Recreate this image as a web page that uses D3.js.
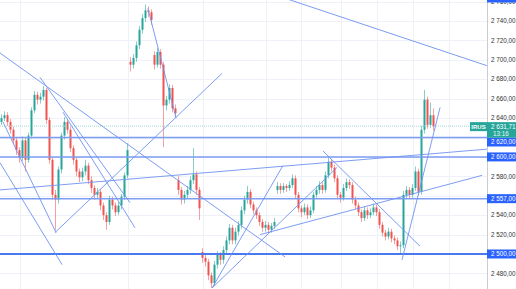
<!DOCTYPE html>
<html>
<head>
<meta charset="utf-8">
<script src="https://cdn.jsdelivr.net/npm/d3@7"></script>
<style>
body { margin: 0; background: #fff; overflow: hidden; }
svg { display: block; font-family: "Liberation Sans", Arial, sans-serif; }
</style>
</head>
<body>
<svg id="chart" width="516" height="289"></svg>
<script>
const svg = d3.select("#chart"),
	width = +svg.attr("width"),
	height = +svg.attr("height");

const plotRight = 487;

// OHLC, one value per candle (IRUS)
const opens = [2636,2640,2643,2636,2628,2617,2607,2599,2617,2597,2622,2648,2664,2659,2662,2669,2638,2597,2561,2556,
	2587,2622,2636,2628,2609,2597,2585,2579,2585,2591,2576,2568,2561,2564,2550,2540,2533,2556,2550,2543,
	2550,2559,2581,2698,2695,2702,2715,2731,2743,2751,2749,2705,2695,2708,2695,2653,2659,2671,2650,2576,
	2566,2556,2561,2566,2576,2582,2566,2502,2496,2492,2478,2470,2489,2499,2494,2504,2514,2527,2514,2523,
	2530,2545,2556,2564,2551,2545,2540,2533,2527,2530,2525,2529,2566,2570,2566,2570,2568,2571,2578,2561,
	2547,2543,2548,2540,2545,2561,2566,2571,2566,2581,2595,2589,2578,2561,2558,2568,2574,2571,2556,2550,
	2543,2537,2545,2540,2543,2548,2543,2530,2522,2518,2523,2516,2514,2508,2509,2561,2566,2561,2568,2585,
	2564,2628,2659,2633,2643];
const highs = [2644,2647,2646,2639,2631,2620,2610,2621,2620,2625,2651,2668,2667,2666,2673,2671,2641,2600,2566,2590,
	2625,2641,2639,2631,2612,2600,2588,2589,2597,2594,2580,2571,2568,2567,2553,2543,2560,2559,2553,2554,
	2562,2584,2614,2703,2706,2719,2735,2747,2757,2755,2752,2709,2712,2711,2698,2663,2675,2674,2654,2580,
	2569,2565,2570,2580,2609,2585,2569,2506,2499,2495,2481,2493,2503,2502,2508,2518,2531,2530,2527,2534,
	2549,2560,2570,2567,2554,2548,2543,2536,2534,2533,2532,2537,2574,2573,2573,2572,2575,2582,2581,2564,
	2550,2552,2551,2549,2564,2570,2575,2574,2585,2600,2598,2592,2581,2564,2572,2578,2577,2574,2559,2553,
	2546,2549,2548,2547,2552,2551,2546,2533,2525,2527,2526,2519,2517,2513,2565,2570,2569,2572,2590,2588,
	2632,2669,2662,2656,2650];
const lows = [2633,2637,2632,2624,2613,2602,2594,2596,2585,2594,2619,2645,2654,2655,2658,2634,2593,2556,2525,2552,
	2583,2618,2624,2605,2592,2580,2574,2575,2581,2572,2563,2556,2557,2545,2535,2525,2530,2546,2539,2540,
	2546,2556,2578,2688,2691,2698,2711,2727,2739,2744,2736,2690,2692,2691,2610,2648,2655,2646,2641,2561,
	2551,2552,2557,2562,2572,2561,2535,2491,2487,2473,2465,2467,2485,2489,2490,2500,2510,2510,2510,2519,
	2526,2541,2552,2547,2541,2536,2529,2523,2523,2521,2522,2526,2562,2562,2563,2564,2565,2568,2557,2543,
	2538,2540,2536,2537,2542,2558,2562,2562,2563,2578,2585,2574,2557,2553,2555,2565,2567,2552,2546,2539,
	2533,2534,2536,2537,2540,2539,2526,2518,2514,2515,2512,2510,2504,2501,2506,2557,2557,2558,2565,2560,
	2561,2624,2629,2630,2627];
const closes = [2640,2643,2636,2628,2617,2607,2599,2617,2597,2622,2648,2664,2659,2662,2669,2638,2597,2561,2556,2587,
	2622,2636,2628,2609,2597,2585,2579,2585,2591,2576,2568,2561,2564,2550,2540,2533,2556,2550,2543,2550,
	2559,2581,2607,2695,2702,2715,2731,2743,2751,2749,2741,2695,2708,2695,2653,2659,2671,2650,2645,2566,
	2556,2561,2566,2576,2582,2566,2547,2496,2492,2478,2470,2489,2499,2494,2504,2514,2527,2514,2523,2530,
	2545,2556,2564,2551,2545,2540,2533,2527,2530,2525,2529,2533,2570,2566,2570,2568,2571,2578,2561,2547,
	2543,2548,2540,2545,2561,2566,2571,2566,2581,2595,2589,2578,2561,2558,2568,2574,2571,2556,2550,2543,
	2537,2545,2540,2543,2548,2543,2530,2522,2518,2523,2516,2514,2508,2509,2561,2566,2561,2568,2585,2564,
	2628,2659,2633,2643,2631.71];

const tickValues = [2480,2500,2520,2540,2560,2580,2600,2620,2640,2660,2680,2700,2720,2740,2760];
const levels = [2620, 2600, 2557, 2500];   // horizontal lines with labels
const lastPrice = 2631.71;
const lastTime = "13:16";
const symbol = "IRUS";
// time grid (candle index)
const gridIdx = [6, 42, 67, 88, 100, 113, 125, 137, 149];

// trend lines drawn on the chart: [index, price] -> [index, price]
const trendLines = [
	[[-0.5, 2707], [94.5, 2497]],
	[[12.8, 2682], [42.8, 2553]],
	[[20.5, 2646], [44.5, 2527]],
	[[17.8, 2522], [73.5, 2686]],
	[[-0.5, 2594], [20.2, 2489]],
	[[0.5, 2636], [18.2, 2522]],
	[[-0.5, 2566], [161.8, 2608]],
	[[86.2, 2772], [161.8, 2694]],
	[[48.8, 2753], [58.2, 2640]],
	[[70.2, 2465], [93.8, 2591]],
	[[70.2, 2465], [111.8, 2589]],
	[[86.2, 2520], [160.2, 2581]],
	[[107.2, 2606], [139.5, 2508]],
	[[133.5, 2494], [146.2, 2651]]
];

const x = d3.scaleLinear().domain([0, closes.length - 1]).range([1.5, 1.5 + 3 * (closes.length - 1)]);
const y = d3.scaleLinear().domain([2500, 2740]).range([254, 21]);

const locale = d3.formatLocale({decimal: ",", thousands: " ", grouping: [3], currency: ["", ""]});
const fmt = locale.format(",.2f");

const plot = svg.append("g");
plot.append("defs").append("clipPath").attr("id", "clip")
	.append("rect").attr("x", 0).attr("y", 0).attr("width", plotRight).attr("height", height);

// grid
plot.append("g").selectAll("line").data(tickValues).enter().append("line")
	.attr("x1", 0).attr("x2", plotRight)
	.attr("y1", d => Math.round(y(d)) + 0.5).attr("y2", d => Math.round(y(d)) + 0.5)
	.attr("stroke", "#eef1f7").attr("stroke-width", 1);
plot.append("g").selectAll("line").data(gridIdx).enter().append("line")
	.attr("x1", d => Math.round(x(d)) + 0.5).attr("x2", d => Math.round(x(d)) + 0.5)
	.attr("y1", 0).attr("y2", height)
	.attr("stroke", "#eef1f7").attr("stroke-width", 1);

// candles
const candles = plot.append("g").attr("clip-path", "url(#clip)");
const up = "#26a69a", down = "#ef5350";
const idx = d3.range(closes.length);
candles.selectAll(".wick").data(idx).enter().append("line")
	.attr("class", "wick")
	.attr("x1", i => x(i)).attr("x2", i => x(i))
	.attr("y1", i => y(highs[i])).attr("y2", i => y(lows[i]))
	.attr("stroke", i => closes[i] >= opens[i] ? up : down)
	.attr("stroke-opacity", 0.55)
	.attr("stroke-width", 1);
candles.selectAll(".body").data(idx).enter().append("rect")
	.attr("class", "body")
	.attr("x", i => x(i) - 1)
	.attr("width", 2)
	.attr("y", i => y(Math.max(opens[i], closes[i])))
	.attr("height", i => Math.max(1, Math.abs(y(opens[i]) - y(closes[i]))))
	.attr("fill", i => closes[i] >= opens[i] ? up : down);

// last price line
plot.append("line")
	.attr("x1", 0).attr("x2", plotRight)
	.attr("y1", y(lastPrice)).attr("y2", y(lastPrice))
	.attr("stroke", "#9fd8d2").attr("stroke-width", 1).attr("stroke-dasharray", "1,1");

// horizontal levels
plot.append("g").selectAll("line").data(levels).enter().append("line")
	.attr("x1", 0).attr("x2", plotRight)
	.attr("y1", d => y(d)).attr("y2", d => y(d))
	.attr("stroke", d => d === 2500 ? "#4a78ef" : "#7d9df3")
	.attr("stroke-width", d => d === 2500 ? 2 : 1.5);

// trend lines
plot.append("g").attr("clip-path", "url(#clip)")
	.selectAll("line").data(trendLines).enter().append("line")
	.attr("x1", d => x(d[0][0])).attr("y1", d => y(d[0][1]))
	.attr("x2", d => x(d[1][0])).attr("y2", d => y(d[1][1]))
	.attr("stroke", "#6f92f2").attr("stroke-opacity", 0.9).attr("stroke-width", 1);

// price axis
const axis = svg.append("g");
axis.append("rect").attr("x", plotRight).attr("y", 0).attr("width", width - plotRight).attr("height", height).attr("fill", "#fff");
axis.append("line").attr("x1", plotRight + 0.5).attr("x2", plotRight + 0.5).attr("y1", 0).attr("y2", height)
	.attr("stroke", "#c9ccd4");

const hidden = [2500, 2560, 2600, 2620];
axis.selectAll(".tick").data(tickValues.filter(d => !hidden.includes(d))).enter().append("text")
	.attr("class", "tick")
	.attr("x", 491).attr("y", d => y(d)).attr("dy", "0.35em")
	.attr("font-size", 6.3).attr("fill", "#333")
	.text(d => fmt(d));

// label of a level above the visible range, pinned to the top edge
axis.append("rect").attr("x", plotRight).attr("y", -6).attr("width", width - plotRight).attr("height", 8.5)
	.attr("fill", "#2962ff");

// level labels (2620 is pushed below the last price label)
const labelY = d => d === 2620 ? 142 : y(d);
axis.selectAll(".lvl").data(levels).enter().append("rect")
	.attr("x", plotRight).attr("width", width - plotRight)
	.attr("y", d => labelY(d) - 4.5).attr("height", 9)
	.attr("fill", "#2962ff");
axis.selectAll(".lvlt").data(levels).enter().append("text")
	.attr("x", 491).attr("y", d => labelY(d)).attr("dy", "0.35em")
	.attr("font-size", 6.3).attr("fill", "#fff")
	.text(d => fmt(d));

// last price label
const ly = y(lastPrice);
axis.append("rect").attr("x", 470).attr("y", ly - 4).attr("width", plotRight - 470).attr("height", 9).attr("fill", up);
axis.append("text").attr("x", 478.5).attr("y", ly + 0.5).attr("dy", "0.35em").attr("text-anchor", "middle")
	.attr("font-size", 6).attr("font-weight", "bold").attr("fill", "#fff").text(symbol);
axis.append("rect").attr("x", plotRight).attr("y", ly - 4).attr("width", width - plotRight).attr("height", 15.5).attr("fill", up);
axis.append("text").attr("x", 491).attr("y", ly + 0.5).attr("dy", "0.35em")
	.attr("font-size", 6.3).attr("fill", "#fff").text(fmt(lastPrice));
axis.append("text").attr("x", 493).attr("y", ly + 7.3).attr("dy", "0.35em")
	.attr("font-size", 6.3).attr("fill", "#e6f6f4").text(lastTime);
</script>
</body>
</html>
